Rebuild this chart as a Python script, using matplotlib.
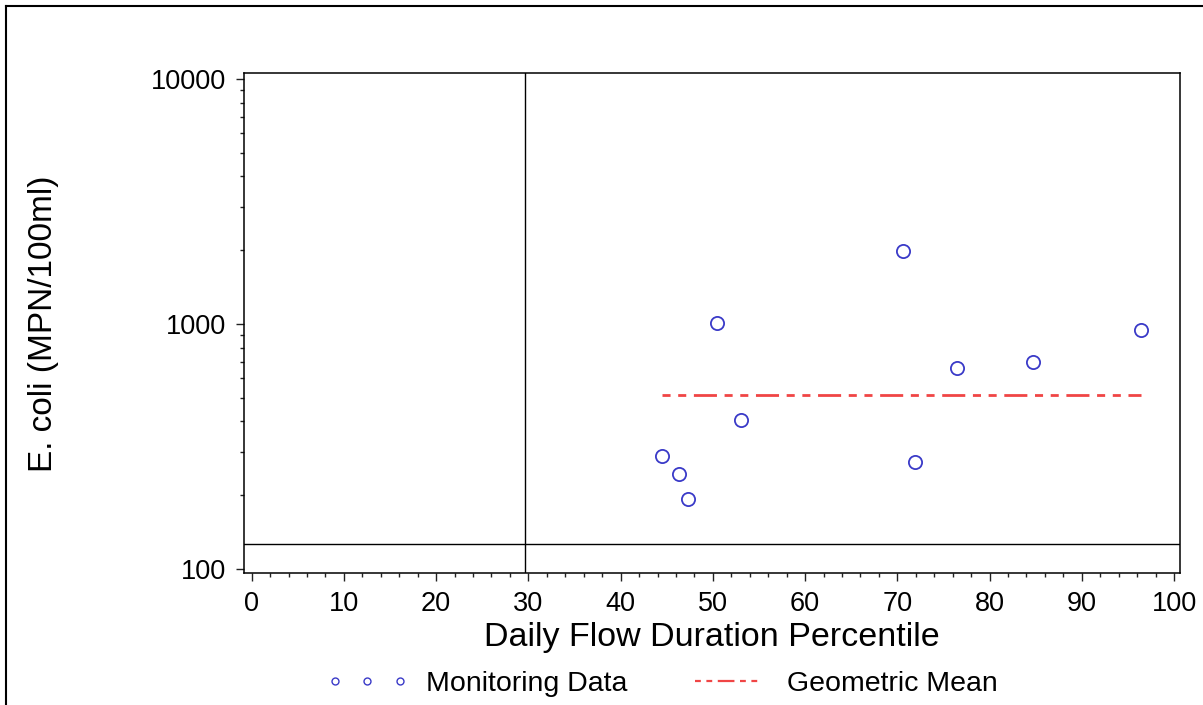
import numpy as np
import matplotlib
matplotlib.use("Agg")
import matplotlib.pyplot as plt
from matplotlib.lines import Line2D
from matplotlib.ticker import FixedLocator, LogLocator, NullFormatter, FixedFormatter, MultipleLocator

plt.rcParams['font.family'] = ['Liberation Sans', 'DejaVu Sans']
plt.rcParams['lines.scale_dashes'] = False

# monitoring data (flow percentile, E. coli MPN/100ml)
flow_pct = [44.5, 46.3, 47.3, 50.5, 53.1, 70.6, 71.9, 76.5, 84.7, 96.4]
ecoli = [289, 245, 193, 1010, 406, 1990, 272, 661, 697, 945]

# geometric mean line spans the data range
geo_x = [min(flow_pct), max(flow_pct)]
geo_mean = float(np.exp(np.mean(np.log(ecoli))))

criterion_y = 126      # horizontal reference line
criterion_x = 29.6     # vertical reference line

x_ticks = [0, 10, 20, 30, 40, 50, 60, 70, 80, 90, 100]
y_ticks = [100, 1000, 10000]
y_labels = ['100', '1000', '10000']

W, H = 1203, 705
fig = plt.figure(figsize=(W / 100, H / 100), dpi=100)
ax = fig.add_axes([243.7 / W, 1 - 573.3 / H, (1180 - 243.7) / W, (573.3 - 73.3) / H])

blue = '#3a3ac8'
red = '#f04545'
dash = [5.8, 5.5, 5.8, 5.5, 16.6, 5.5]

ax.plot(flow_pct, ecoli, ls='none', marker='o', ms=9.5, mfc='none', mec=blue, mew=1.3,
        label='Monitoring Data', zorder=3)
ax.plot(geo_x, [geo_mean, geo_mean], color=red, lw=2.0, ls=(0, dash),
        label='Geometric Mean', zorder=2)

ax.axhline(criterion_y, color='black', lw=1.0)
ax.axvline(criterion_x, color='black', lw=1.0)

ax.set_yscale('log')
ax.set_xlim(-0.867, 100.65)
ax.set_ylim(96.0, 10550)

ax.xaxis.set_major_locator(FixedLocator(x_ticks))
ax.xaxis.set_minor_locator(MultipleLocator(2))
ax.yaxis.set_major_locator(FixedLocator(y_ticks))
ax.yaxis.set_major_formatter(FixedFormatter(y_labels))
ax.yaxis.set_minor_locator(LogLocator(base=10, subs=np.arange(2, 10)))
ax.yaxis.set_minor_formatter(NullFormatter())

ax.tick_params(which='both', direction='out', top=False, right=False, width=1.0, color='#222222')
ax.tick_params(which='major', length=6, labelsize=19.5, pad=6.5)
ax.tick_params(which='minor', length=3)
for s in ax.spines.values():
    s.set_linewidth(1.1)

ax.set_xlabel('Daily Flow Duration Percentile', fontsize=24.5, labelpad=4)
ax.set_ylabel('E. coli (MPN/100ml)', fontsize=24, labelpad=66)

leg_handles = [
    Line2D([], [], ls='none', marker='o', ms=5, mfc='none', mec=blue, mew=1.0),
    Line2D([], [], color=red, lw=1.6, ls=(0, [4.2, 4.0, 4.2, 4.0, 12, 4.0])),
]
fig.legend(leg_handles, ['Monitoring Data', 'Geometric Mean'], loc='center',
           bbox_to_anchor=(0.55, 1 - 684 / H), ncol=2, numpoints=3, frameon=False,
           fontsize=20.5, handlelength=2.9, handletextpad=0.6, columnspacing=2.1,
           borderpad=0, borderaxespad=0)

# outer frame (top and left edges visible)
fig.add_artist(Line2D([6 / W, 6 / W], [0, 1 - 6 / H], transform=fig.transFigure, color='black', lw=1.5))
fig.add_artist(Line2D([6 / W, 1], [1 - 6 / H, 1 - 6 / H], transform=fig.transFigure, color='black', lw=1.5))

fig.savefig('out.png', dpi=100)
